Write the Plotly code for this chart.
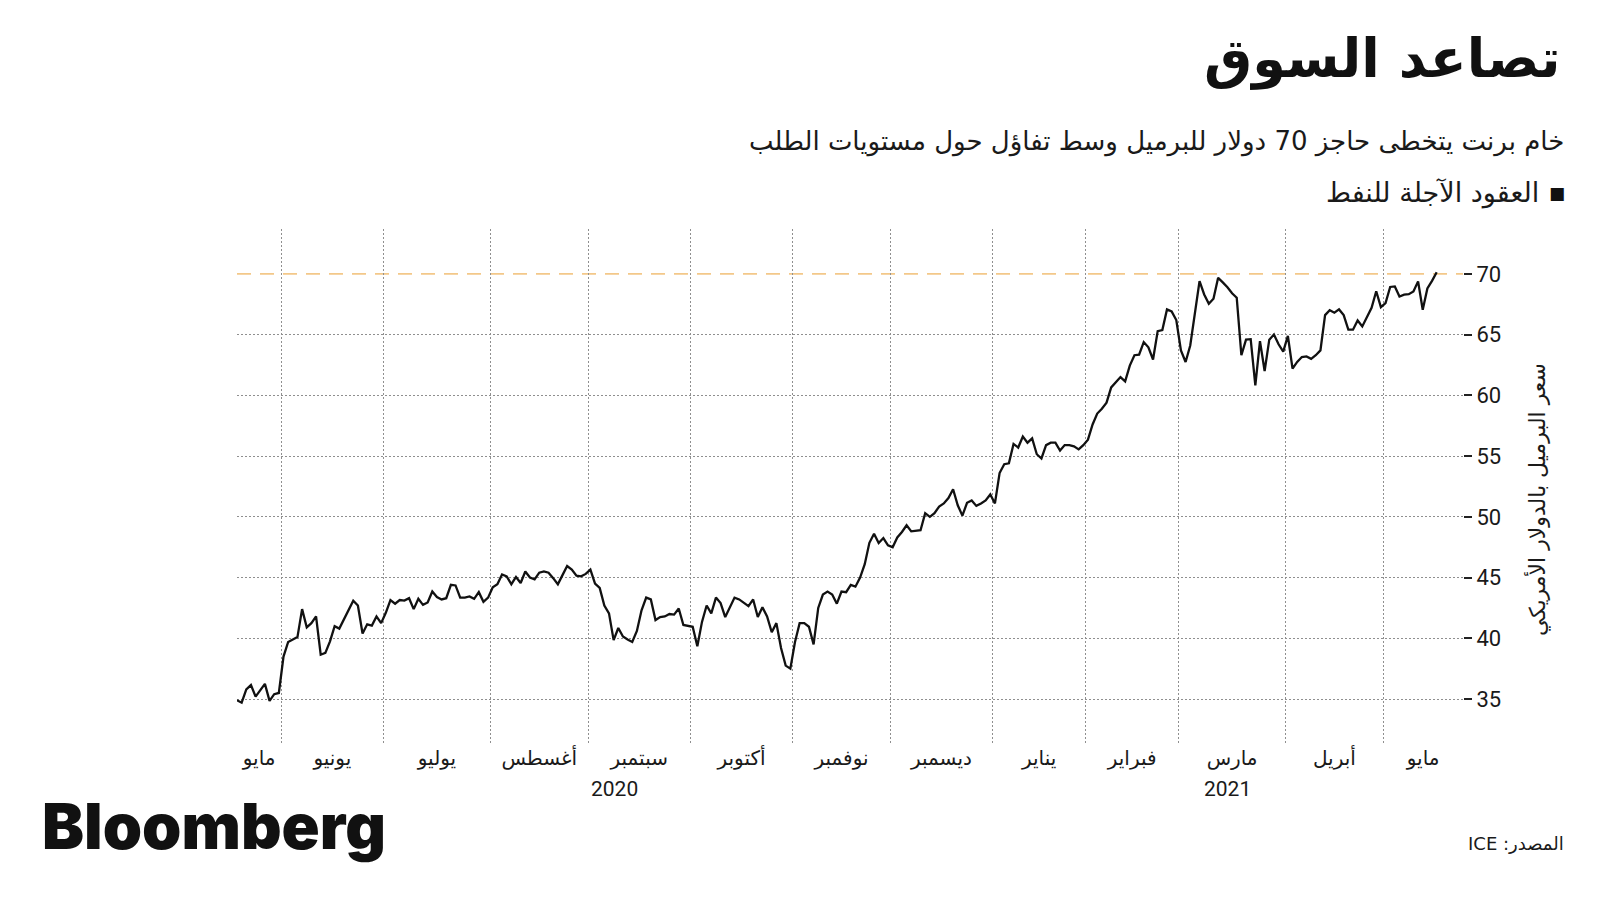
import plotly.graph_objects as go
import pandas as pd

# ---------------- data ----------------
HOLIDAYS = ["2020-12-25", "2021-01-01", "2021-04-02"]
trade_days = [d for d in pd.bdate_range("2020-05-18", "2021-05-18")
              if d.strftime("%Y-%m-%d") not in HOLIDAYS]

prices = [
    # May 2020 (18-29)
    34.9, 34.7, 35.8, 36.15, 35.2, 35.7, 36.25, 34.85, 35.4, 35.5,
    # Jun
    38.5, 39.7, 39.9, 40.1, 42.4, 40.9, 41.25, 41.8, 38.65, 38.8,
    39.75, 41.0, 40.8, 41.55, 42.25, 43.1, 42.7, 40.4, 41.15, 41.05,
    41.8, 41.25,
    # Jul
    42.1, 43.15, 42.85, 43.15, 43.1, 43.3, 42.4, 43.25, 42.75, 42.95,
    43.85, 43.4, 43.2, 43.3, 44.4, 44.35, 43.35, 43.35, 43.45, 43.25,
    43.8, 43.0, 43.35,
    # Aug
    44.2, 44.45, 45.25, 45.1, 44.45, 45.05, 44.55, 45.5, 45.0, 44.85,
    45.4, 45.5, 45.4, 44.95, 44.45, 45.2, 45.95, 45.65, 45.15, 45.1,
    45.3,
    # Sep
    45.65, 44.5, 44.15, 42.7, 42.05, 39.85, 40.85, 40.15, 39.9, 39.7,
    40.6, 42.3, 43.35, 43.2, 41.5, 41.75, 41.8, 42.0, 41.95, 42.45,
    41.1, 41.0,
    # Oct
    40.95, 39.35, 41.35, 42.7, 42.05, 43.35, 42.9, 41.75, 42.5, 43.35,
    43.2, 42.95, 42.65, 43.2, 41.75, 42.55, 41.8, 40.5, 41.25, 39.2,
    37.75, 37.5,
    # Nov
    39.7, 41.25, 41.25, 40.95, 39.5, 42.5, 43.6, 43.85, 43.6, 42.85,
    43.85, 43.8, 44.4, 44.25, 45.0, 46.1, 47.86, 48.6, 47.85, 48.25,
    47.65,
    # Dec
    47.5, 48.3, 48.75, 49.3, 48.8, 48.85, 48.9, 50.3, 50.0, 50.3,
    50.85, 51.1, 51.55, 52.27, 50.95, 50.1, 51.15, 51.35, 50.9, 51.1,
    51.35, 51.84,
    # Jan 2021
    51.1, 53.6, 54.33, 54.4, 56.0, 55.7, 56.6, 56.1, 56.45, 55.15,
    54.8, 55.9, 56.1, 56.1, 55.45, 55.9, 55.9, 55.8, 55.55, 55.9,
    # Feb
    56.35, 57.6, 58.5, 58.9, 59.4, 60.65, 61.1, 61.5, 61.15, 62.45,
    63.3, 63.35, 64.38, 63.95, 62.95, 65.28, 65.37, 67.07, 66.9, 66.2,
    # Mar
    63.7, 62.74, 64.1, 66.6, 69.4, 68.3, 67.53, 67.95, 69.67, 69.3,
    68.9, 68.4, 68.03, 63.3, 64.58, 64.62, 60.82, 64.46, 62.0, 64.58,
    65.0, 64.2, 63.6,
    # Apr
    64.9, 62.2, 62.75, 63.15, 63.2, 63.0, 63.3, 63.7, 66.6, 67.0,
    66.8, 67.07, 66.6, 65.4, 65.4, 66.16, 65.67, 66.45, 67.2, 68.57,
    67.26,
    # May
    67.6, 68.92, 68.96, 68.13, 68.28, 68.32, 68.55, 69.38, 67.04, 68.8,
    69.42, 70.13,
]

month_names = {1: "يناير", 2: "فبراير", 3: "مارس", 4: "أبريل", 5: "مايو",
               6: "يونيو", 7: "يوليو", 8: "أغسطس", 9: "سبتمبر",
               10: "أكتوبر", 11: "نوفمبر", 12: "ديسمبر"}
y_ticks = [35, 40, 45, 50, 55, 60, 65, 70]
y_grid = [35, 40, 45, 50, 55, 60, 65]
threshold = 70

title = "تصاعد السوق"
subtitle = "خام برنت يتخطى حاجز 70 دولار للبرميل وسط تفاؤل حول مستويات الطلب"
legend_label = "العقود الآجلة للنفط"
y_title = "سعر البرميل بالدولار الأمريكي"
source = "ICE :المصدر"

# ---------------- derived axis positions ----------------
n = min(len(prices), len(trade_days))
trade_days = trade_days[:n]
prices = prices[:n]
idx = list(range(n))
X_MAX = 263.66

months = []   # [year, month, first_idx, last_idx]
for i, d in enumerate(trade_days):
    key = (d.year, d.month)
    if not months or (months[-1][0], months[-1][1]) != key:
        months.append([d.year, d.month, i, i])
    else:
        months[-1][3] = i

boundaries = [m[2] - 0.5 for m in months[1:]]
tick_pos, tick_txt = [], []
for k, (yy, mm, a, b) in enumerate(months):
    left = 0 if k == 0 else a - 0.5
    right = X_MAX if k == len(months) - 1 else b + 0.5
    tick_pos.append((left + right) / 2)
    tick_txt.append(month_names[mm])

years = {}
for (yy, mm, a, b) in months:
    if yy not in years:
        years[yy] = [a, b]
    years[yy][1] = b
year_pos = {}
ylist = sorted(years)
for k, yy in enumerate(ylist):
    a, b = years[yy]
    left = 0 if k == 0 else a - 0.5
    right = X_MAX if k == len(ylist) - 1 else b + 0.5
    year_pos[yy] = (left + right) / 2

# ---------------- figure ----------------
AR = "DejaVu Sans"
NUM = "Roboto"
TXT = "#1a1a1a"
GRID = "#8f8f8f"
PLOT_L, PLOT_R, PLOT_T, PLOT_B = 237, 1463, 229, 744

fig = go.Figure()
fig.add_trace(go.Scatter(x=idx, y=prices, mode="lines",
                         line=dict(color="#111111", width=2.3),
                         hoverinfo="skip", showlegend=False))

fig.add_shape(type="line", xref="paper", x0=0, x1=1, yref="y",
              y0=threshold, y1=threshold, layer="below",
              line=dict(color="#f3c889", width=1.6, dash="14px,9px"))

fig.update_layout(
    width=1600, height=900,
    margin=dict(l=PLOT_L, r=1600 - PLOT_R, t=PLOT_T, b=900 - PLOT_B),
    paper_bgcolor="white", plot_bgcolor="white",
    showlegend=False,
    xaxis=dict(range=[0, X_MAX], tickmode="array", tickvals=tick_pos,
               ticktext=tick_txt, showgrid=False, zeroline=False,
               showline=False, ticks="",
               tickfont=dict(family=AR, size=20, color=TXT),
               minor=dict(tickmode="array", tickvals=boundaries,
                          showgrid=True, gridcolor=GRID, gridwidth=1,
                          griddash="2px,2px", ticks="")),
    yaxis=dict(range=[31.3, 73.69], side="right", tickmode="array",
               tickvals=y_ticks, ticktext=[str(v) for v in y_ticks],
               showgrid=False, zeroline=False, showline=False,
               ticks="outside", ticklen=8, tickwidth=2, tickcolor="#222",
               tickfont=dict(family=NUM, size=22, color=TXT),
               minor=dict(tickmode="array", tickvals=y_grid, showgrid=True,
                          gridcolor=GRID, gridwidth=1, griddash="2px,2px",
                          ticks="")),
)

def px2paper(px, py):
    return ((px - PLOT_L) / (PLOT_R - PLOT_L),
            (PLOT_B - py) / (PLOT_B - PLOT_T))

anns = []
x, y = px2paper(1563, 58)
anns.append(dict(text=f"<b>{title}</b>", x=x, y=y, xanchor="right", yanchor="middle",
                 font=dict(family=AR, size=54, color="#111")))
x, y = px2paper(1566, 142)
anns.append(dict(text=subtitle, x=x, y=y, xanchor="right", yanchor="middle",
                 font=dict(family=AR, size=26, color=TXT)))
x, y = px2paper(1541, 193)
anns.append(dict(text=legend_label, x=x, y=y, xanchor="right", yanchor="middle",
                 font=dict(family=AR, size=27, color=TXT)))
x, y = px2paper(1557, 193)
anns.append(dict(text="■", x=x, y=y, xanchor="center", yanchor="middle",
                 font=dict(family=AR, size=17, color="#111")))
x, y = px2paper(1537, 500)
anns.append(dict(text=y_title, x=x, y=y, xanchor="center", yanchor="middle",
                 textangle=-90, font=dict(family=AR, size=22, color=TXT)))
for yy, pos in year_pos.items():
    anns.append(dict(text=str(yy), x=pos, xref="x", y=px2paper(0, 789)[1], yref="paper",
                     xanchor="center", yanchor="middle",
                     font=dict(family=NUM, size=21, color=TXT)))
x, y = px2paper(40, 826)
anns.append(dict(text="Bloomberg", x=x, y=y, xanchor="left", yanchor="middle",
                 font=dict(family="Inter", size=63, color="#111", weight=900)))
x, y = px2paper(1566, 843)
anns.append(dict(text=source, x=x, y=y, xanchor="right", yanchor="middle",
                 font=dict(family=AR, size=18, color=TXT)))

for a in anns:
    a.setdefault("xref", "paper")
    a.setdefault("yref", "paper")
    a["showarrow"] = False
fig.update_layout(annotations=anns)

fig.write_html("out.html")
